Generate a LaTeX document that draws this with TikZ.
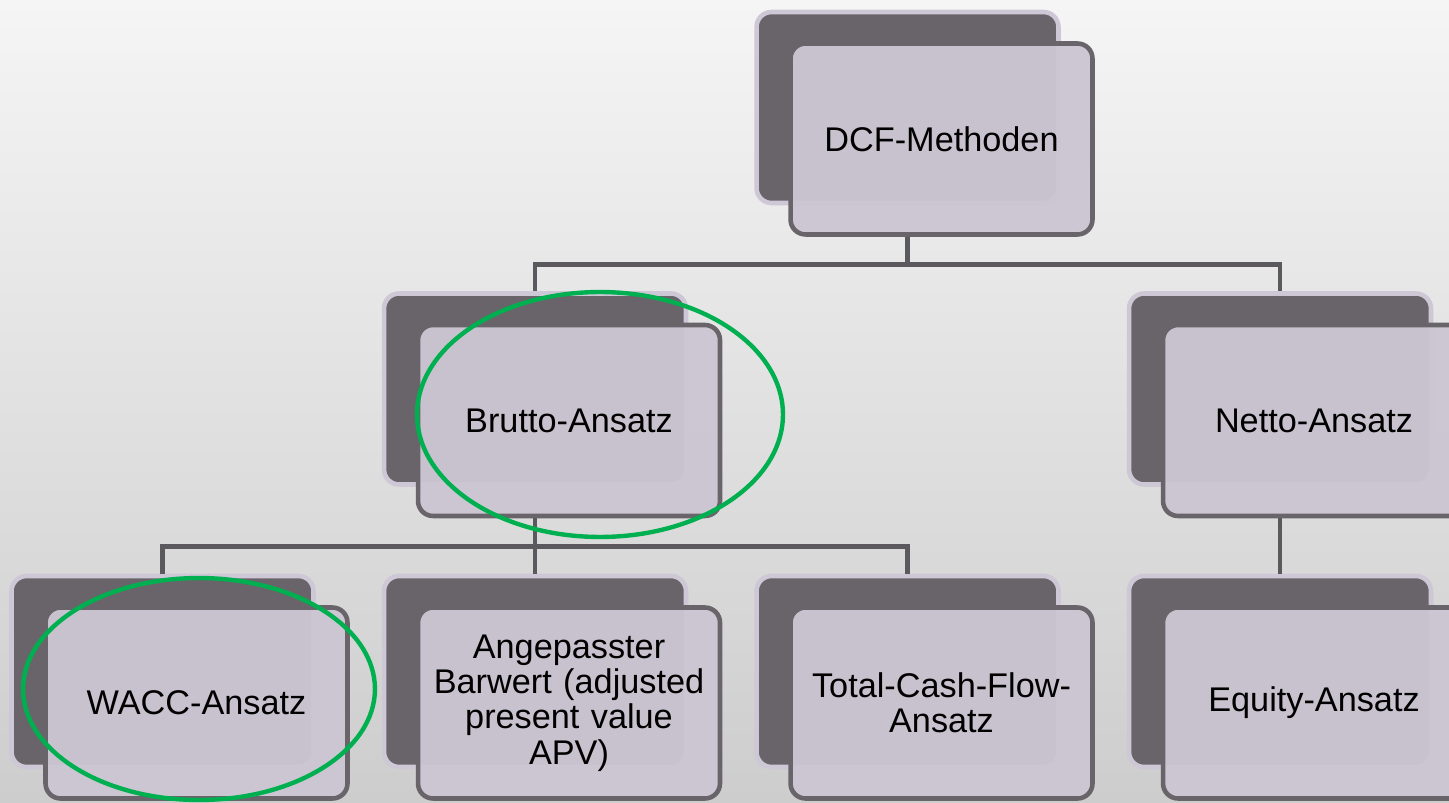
\documentclass[tikz,border=0pt]{standalone}
\usepackage{fontspec}
\setmainfont{Liberation Sans}
\usepackage{tikz}
\usetikzlibrary{calc}
\definecolor{boxdark}{RGB}{104,100,106}
\definecolor{boxrim}{RGB}{206,200,214}
\definecolor{boxlight}{RGB}{204,198,211}
\definecolor{linegray}{RGB}{92,89,94}
\definecolor{markgreen}{RGB}{0,176,80}
\definecolor{bgtop}{RGB}{245,245,245}
\definecolor{bgbottom}{RGB}{205,205,205}
\tikzset{
  backbox/.style={draw=boxrim, line width=2.6pt, fill=boxdark, rounded corners=0.3cm,
    minimum width=6.04cm, minimum height=3.82cm, inner sep=0pt},
  frontbox/.style={draw=boxdark, line width=2.6pt, fill=boxlight, fill opacity=0.96, text opacity=1,
    rounded corners=0.3cm, minimum width=6.04cm, minimum height=3.82cm, inner sep=0pt,
    text width=5.8cm, align=center, font=\fontsize{19.5}{20.2}\selectfont},
  conn/.style={draw=linegray, line width=2.6pt},
  ring/.style={draw=markgreen, line width=2.5pt}
}

\begin{document}
\begin{tikzpicture}[x=0.02cm,y=-0.02cm]
                    \useasboundingbox (0,0) rectangle (1449,803);
                    \shade[top color=bgtop, bottom color=bgbottom] (0,0) rectangle (1449,803);
                    \node[backbox] (dcfb) at (907.5,107.5) {};
                    \node[frontbox] (dcf) at (941.5,139) {DCF-Methoden};
                    \node[backbox] (bruttob) at (535,389) {};
                    \node[frontbox] (brutto) at (569,420.5) {Brutto-Ansatz};
                    \node[backbox] (nettob) at (1280,389) {};
                    \node[frontbox] (netto) at (1314,420.5) {Netto-Ansatz};
                    \node[backbox] (waccb) at (162.5,671.5) {};
                    \node[frontbox] (wacc) at (196.5,703) {WACC-Ansatz};
                    \node[backbox] (apvb) at (535,671.5) {};
                    \node[frontbox] (apv) at (569,703) {Angepasster\\Barwert (adjusted\\present value\\APV)};
                    \node[backbox] (tcfb) at (907.5,671.5) {};
                    \node[frontbox] (tcf) at (941.5,703) {Total-Cash-Flow-\\Ansatz};
                    \node[backbox] (equityb) at (1280,671.5) {};
                    \node[frontbox] (equity) at (1314,703) {Equity-Ansatz};
                    \draw[conn] (dcfb.center |- dcf.south) -- ++(0,28) -| (bruttob.north);
                    \draw[conn] (dcfb.center |- dcf.south) -- ++(0,28) -| (nettob.north);
                    \draw[conn] (bruttob.center |- brutto.south) -- ++(0,28) -| (waccb.north);
                    \draw[conn] (bruttob.center |- brutto.south) -- ++(0,28) -| (apvb.north);
                    \draw[conn] (bruttob.center |- brutto.south) -- ++(0,28) -| (tcfb.north);
                    \draw[conn] (nettob.center |- netto.south) -- (equityb.north);
                    \draw[ring] (600,414.5) ellipse [x radius=3.66cm, y radius=2.45cm];
                    \draw[ring] (199,689) ellipse [x radius=3.52cm, y radius=2.22cm];
                  \end{tikzpicture}
\end{document}
